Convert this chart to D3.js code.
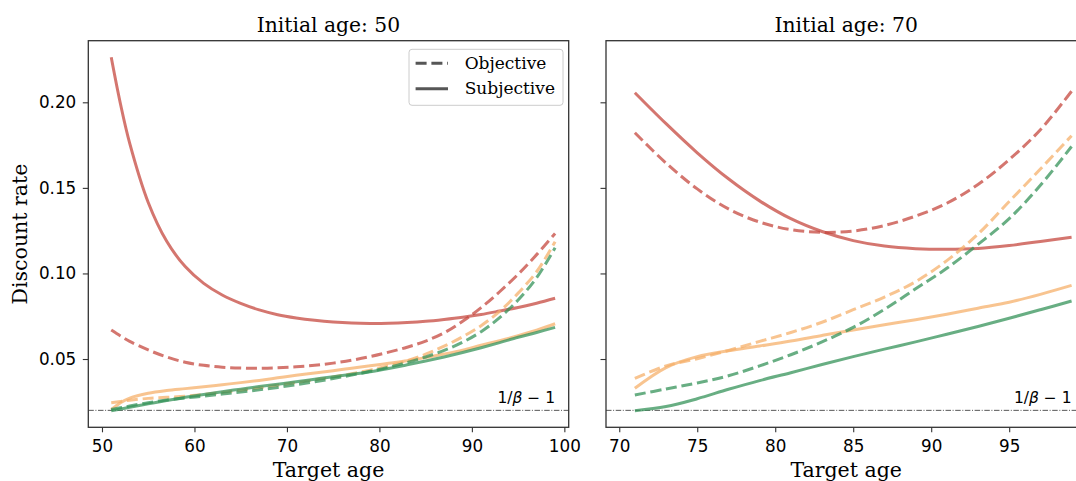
<!DOCTYPE html>
<html>
<head>
<meta charset="utf-8">
<script src="https://cdn.jsdelivr.net/npm/d3@7"></script>
<style>
  body { margin: 0; background: #fff; }
  svg { display: block; }
  .tick text { font-family: "DejaVu Sans", sans-serif; font-size: 16.8px; fill: #000; }
  .serif { font-family: "DejaVu Serif", serif; fill: #000; }
</style>
</head>
<body>
<svg id="chart" width="1076" height="481"></svg>
<script>
// ---- data ----
const agesLeft = [51, 52, 53, 55, 57, 59, 61, 63, 65, 67, 69, 71, 73, 75, 77, 79, 81, 83, 85, 87, 89, 91, 93, 95, 97, 99];
const agesRight = [71, 73, 75, 77, 79, 81, 83, 85, 87, 89, 91, 93, 95, 97, 99];

// initial age 50
const redSubjLeft = [0.2263, 0.199, 0.176, 0.1415, 0.1188, 0.1040, 0.0942, 0.0874, 0.0825, 0.0787, 0.0759, 0.0740, 0.0726,
  0.0716, 0.0710, 0.0708, 0.0709, 0.0713, 0.0720, 0.0731, 0.0744, 0.0760, 0.0780, 0.0801, 0.0826, 0.0855];
const redObjLeft = [0.0669, 0.0635, 0.0603, 0.0553, 0.0512, 0.0481, 0.0463, 0.0452, 0.0447, 0.0446, 0.0449, 0.0455, 0.0463,
  0.0476, 0.0493, 0.0514, 0.054, 0.0569, 0.0605, 0.0653, 0.0720, 0.0800, 0.0893, 0.0995, 0.1110, 0.1234];
const orangeSubjLeft = [0.0205, 0.0245, 0.0272, 0.0300, 0.0316, 0.0327, 0.0338, 0.0350, 0.0362, 0.0375, 0.0390, 0.0405, 0.0418,
  0.0432, 0.0446, 0.046, 0.0475, 0.049, 0.0508, 0.0529, 0.0552, 0.0580, 0.0607, 0.0636, 0.0668, 0.0706];
const orangeObjLeft = [0.0245, 0.0252, 0.0259, 0.027, 0.0276, 0.0283, 0.0293, 0.0305, 0.0318, 0.0332, 0.0347, 0.0362, 0.0378,
  0.0395, 0.0414, 0.0435, 0.0460, 0.0490, 0.0528, 0.0575, 0.0630, 0.0695, 0.0778, 0.0885, 0.1010, 0.1185];
const greenSubjLeft = [0.0198, 0.0208, 0.0218, 0.0238, 0.0258, 0.0276, 0.0293, 0.0309, 0.0324, 0.0339, 0.0353, 0.0367, 0.0382,
  0.0397, 0.0411, 0.0426, 0.0445, 0.0466, 0.0488, 0.0512, 0.0538, 0.0566, 0.0596, 0.0627, 0.0655, 0.0685];
const greenObjLeft = [0.0205, 0.0215, 0.0225, 0.0245, 0.026, 0.0272, 0.0283, 0.0295, 0.0307, 0.032, 0.0334, 0.0350, 0.0367,
  0.0386, 0.0406, 0.0428, 0.0452, 0.0480, 0.0512, 0.0550, 0.0598, 0.066, 0.0742, 0.0845, 0.0975, 0.1150];

// initial age 70
const redSubjRight = [0.2056, 0.1875, 0.1705, 0.1553, 0.1424, 0.1320, 0.1245, 0.1192, 0.1160, 0.1145, 0.1141, 0.1146,
  0.1163, 0.1187, 0.1211];
const redObjRight = [0.1822, 0.1645, 0.1494, 0.1377, 0.1300, 0.1256, 0.1240, 0.1248, 0.1280, 0.1335, 0.1410, 0.1520,
  0.1665, 0.1840, 0.2065];
const orangeSubjRight = [0.0329, 0.0450, 0.0514, 0.0548, 0.0576, 0.0605, 0.0638, 0.0670, 0.0700, 0.0730, 0.0762, 0.0797,
  0.0832, 0.0878, 0.0930];
const orangeObjRight = [0.0387, 0.0460, 0.0502, 0.0550, 0.0603, 0.0655, 0.0715, 0.0788, 0.0862, 0.0952, 0.1075, 0.1230,
  0.1420, 0.1610, 0.1805];
const greenSubjRight = [0.0198, 0.0222, 0.0268, 0.0323, 0.0374, 0.0420, 0.0468, 0.0514, 0.0558, 0.0600, 0.0645, 0.0690,
  0.0738, 0.0788, 0.0839];
const greenObjRight = [0.029, 0.0325, 0.0360, 0.0402, 0.0460, 0.0525, 0.0600, 0.0685, 0.0790, 0.0910, 0.1030, 0.1170,
  0.1320, 0.1515, 0.1742];

const baseRate = 0.02; // 1/beta - 1
const yTicks = [0.05, 0.10, 0.15, 0.20];
const xTicksLeft = [50, 60, 70, 80, 90, 100];
const xTicksRight = [70, 75, 80, 85, 90, 95];
const titles = ['Initial age: 50', 'Initial age: 70'];

const colors = { red: '#c6483f', orange: '#f6b06b', green: '#369359' };

// ---- layout ----
const svg = d3.select('#chart');
const plotTop = 40.7, plotBottom = 427.3, panelW = 480.4;
const y = d3.scaleLinear().domain([0.0101, 0.236]).range([plotBottom, plotTop]);

const panels = [
  {
    left: 88.3, domain: [48.52, 100.47], ticks: xTicksLeft, ages: agesLeft, title: titles[0], labels: true, legend: true,
    series: [
      { v: redObjLeft, c: colors.red, dash: true }, { v: redSubjLeft, c: colors.red, dash: false },
      { v: orangeObjLeft, c: colors.orange, dash: true }, { v: orangeSubjLeft, c: colors.orange, dash: false },
      { v: greenObjLeft, c: colors.green, dash: true }, { v: greenSubjLeft, c: colors.green, dash: false }
    ]
  },
  {
    left: 606, domain: [69.15, 99.95], ticks: xTicksRight, ages: agesRight, title: titles[1], labels: false, legend: false,
    series: [
      { v: redObjRight, c: colors.red, dash: true }, { v: redSubjRight, c: colors.red, dash: false },
      { v: orangeObjRight, c: colors.orange, dash: true }, { v: orangeSubjRight, c: colors.orange, dash: false },
      { v: greenObjRight, c: colors.green, dash: true }, { v: greenSubjRight, c: colors.green, dash: false }
    ]
  }
];

panels.forEach((p, i) => {
  const x = d3.scaleLinear().domain(p.domain).range([p.left, p.left + panelW]);
  const g = svg.append('g');

  g.append('clipPath').attr('id', 'clip' + i)
    .append('rect').attr('x', p.left).attr('y', plotTop).attr('width', panelW).attr('height', plotBottom - plotTop);

  const plot = g.append('g').attr('clip-path', `url(#clip${i})`);

  // 1/beta - 1 reference line
  plot.append('line')
    .attr('x1', p.left).attr('x2', p.left + panelW)
    .attr('y1', y(baseRate)).attr('y2', y(baseRate))
    .attr('stroke', '#444').attr('stroke-width', 0.9)
    .attr('stroke-dasharray', '5.5,1.6,1,1.6');

  const line = d3.line()
    .x((d, k) => x(p.ages[k]))
    .y(d => y(d))
    .curve(d3.curveCatmullRom.alpha(0.5));

  p.series.forEach(s => {
    plot.append('path')
      .attr('d', line(s.v))
      .attr('fill', 'none')
      .attr('stroke', s.c)
      .attr('stroke-opacity', 0.75)
      .attr('stroke-width', 3)
      .attr('stroke-dasharray', s.dash ? '11,4.8' : null);
  });

  g.append('text')
    .attr('x', x(99)).attr('y', y(baseRate) - 7.5)
    .attr('text-anchor', 'end')
    .style('font-family', '"DejaVu Sans", sans-serif').style('font-size', '15.5px')
    .html('1/<tspan font-style="italic">β</tspan> − 1');

  // axes
  const xAxis = d3.axisBottom(x).tickValues(p.ticks).tickSize(5).tickPadding(7.5).tickFormat(d3.format('d'));
  g.append('g').attr('transform', `translate(0,${plotBottom})`).call(xAxis)
    .call(a => a.select('.domain').remove())
    .call(a => a.selectAll('.tick line').attr('stroke', '#333').attr('stroke-width', 1.1));

  const yAxis = d3.axisLeft(y).tickValues(yTicks).tickSize(5.5).tickPadding(6.5)
    .tickFormat(p.labels ? d3.format('.2f') : '');
  g.append('g').attr('transform', `translate(${p.left},0)`).call(yAxis)
    .call(a => a.select('.domain').remove())
    .call(a => a.selectAll('.tick line').attr('stroke', '#333').attr('stroke-width', 1.1));

  // frame
  g.append('rect')
    .attr('x', p.left).attr('y', plotTop).attr('width', panelW).attr('height', plotBottom - plotTop)
    .attr('fill', 'none').attr('stroke', '#333').attr('stroke-width', 1.3);

  const cx = p.left + panelW / 2;
  g.append('text').attr('class', 'serif')
    .attr('x', cx).attr('y', 31.5).attr('text-anchor', 'middle')
    .style('font-size', '20.3px').text(p.title);

  g.append('text').attr('class', 'serif')
    .attr('x', cx).attr('y', 476.5).attr('text-anchor', 'middle')
    .style('font-size', '20.5px').text('Target age');

  if (p.labels) {
    svg.append('text').attr('class', 'serif')
      .attr('transform', `translate(27,${(plotTop + plotBottom) / 2}) rotate(-90)`)
      .attr('text-anchor', 'middle')
      .style('font-size', '20.5px').text('Discount rate');
  }

  if (p.legend) {
    const lg = g.append('g').attr('transform', 'translate(409,49.3)');
    lg.append('rect').attr('width', 154).attr('height', 56).attr('rx', 3)
      .attr('fill', '#fff').attr('fill-opacity', 0.8)
      .attr('stroke', '#ccc').attr('stroke-width', 1);
    const items = [{ name: 'Objective', dash: true }, { name: 'Subjective', dash: false }];
    items.forEach((it, k) => {
      const yy = 14 + k * 25.4;
      lg.append('line').attr('x1', 6.6).attr('x2', 39).attr('y1', yy).attr('y2', yy)
        .attr('stroke', '#444').attr('stroke-opacity', 0.9).attr('stroke-width', 3)
        .attr('stroke-dasharray', it.dash ? '11,4.8' : null);
      lg.append('text').attr('class', 'serif')
        .attr('x', 55.7).attr('y', yy + 5.5)
        .style('font-size', '17px').text(it.name);
    });
  }
});
</script>
</body>
</html>
